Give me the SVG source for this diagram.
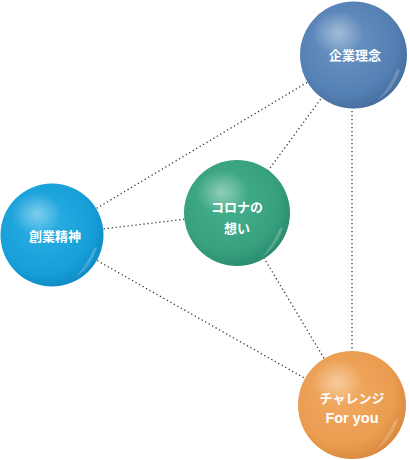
<svg xmlns="http://www.w3.org/2000/svg" width="410" height="460" viewBox="0 0 410 460">
<style>
.c{fill:none;stroke:#3a3a3a;stroke-width:1.3;stroke-dasharray:1.3 2.7}
.t{font-family:"Noto Sans CJK JP","Liberation Sans",sans-serif;font-weight:bold;font-size:13px;fill:#fff;text-anchor:middle}
.e{font-family:"Liberation Sans",Arial,sans-serif;font-weight:bold;font-size:14.5px;fill:#fff;text-anchor:middle}
.r{fill:url(#rf);opacity:0.55}
</style>
<defs>
<radialGradient id="gb" cx="0.42" cy="0.4" r="0.62"><stop offset="0" stop-color="#6b94c4"/><stop offset="0.75" stop-color="#5580b3"/><stop offset="1" stop-color="#466f9f"/></radialGradient>
<radialGradient id="gc" cx="0.42" cy="0.4" r="0.62"><stop offset="0" stop-color="#2eafe4"/><stop offset="0.75" stop-color="#179fd9"/><stop offset="1" stop-color="#0f8cc6"/></radialGradient>
<radialGradient id="gg" cx="0.42" cy="0.4" r="0.62"><stop offset="0" stop-color="#47b08e"/><stop offset="0.75" stop-color="#37a07f"/><stop offset="1" stop-color="#2b8c6e"/></radialGradient>
<radialGradient id="go" cx="0.42" cy="0.4" r="0.62"><stop offset="0" stop-color="#f2ab62"/><stop offset="0.75" stop-color="#ea9c50"/><stop offset="1" stop-color="#d98a40"/></radialGradient>
<radialGradient id="hl" cx="0.5" cy="0.5" r="0.5"><stop offset="0" stop-color="#fff" stop-opacity="0.4"/><stop offset="1" stop-color="#fff" stop-opacity="0"/></radialGradient>
<linearGradient id="rf" x1="0" y1="0" x2="1" y2="1"><stop offset="0" stop-color="#fff" stop-opacity="0.7"/><stop offset="1" stop-color="#fff" stop-opacity="0.05"/></linearGradient>
</defs>
<g id="connectors">
<line class="c" x1="52" y1="235" x2="353" y2="55"/>
<line class="c" x1="52" y1="235" x2="237" y2="213"/>
<line class="c" x1="52" y1="235" x2="352" y2="405"/>
<line class="c" x1="237" y1="213" x2="353" y2="55"/>
<line class="c" x1="237" y1="213" x2="352" y2="405"/>
<line class="c" x1="352" y1="55" x2="352" y2="405"/>
</g>
<g id="n-rinen">
<circle cx="353.5" cy="55" r="53.5" fill="url(#gb)"/>
<ellipse cx="338" cy="33" rx="26" ry="22" fill="url(#hl)"/>
<path class="r" d="M400,70 Q394,90 378,100 Q390,86 396,72 Q398,68 400,70 Z"/>
<text class="t" x="355" y="60">企業理念</text>
</g>
<g id="n-sogyo">
<circle cx="52" cy="235" r="51.5" fill="url(#gc)"/>
<ellipse cx="37" cy="214" rx="25" ry="21" fill="url(#hl)"/>
<path class="r" d="M97,248 Q91,268 75,278 Q87,264 93,250 Q95,246 97,248 Z"/>
<text class="t" x="55" y="241">創業精神</text>
</g>
<g id="n-corona">
<circle cx="237" cy="213" r="53" fill="url(#gg)"/>
<ellipse cx="222" cy="192" rx="26" ry="22" fill="url(#hl)"/>
<path class="r" d="M283,228 Q277,248 261,258 Q273,244 279,230 Q281,226 283,228 Z"/>
<text class="t" x="237" y="212">コロナの</text>
<text class="t" x="237" y="233">想い</text>
</g>
<g id="n-challenge">
<circle cx="352" cy="405" r="54" fill="url(#go)"/>
<ellipse cx="337" cy="382" rx="26" ry="22" fill="url(#hl)"/>
<path class="r" d="M398,420 Q392,440 376,450 Q388,436 394,422 Q396,418 398,420 Z" opacity="0.35"/>
<text class="t" x="352" y="403">チャレンジ</text>
<text class="e" x="352" y="423">For you</text>
</g>
</svg>
